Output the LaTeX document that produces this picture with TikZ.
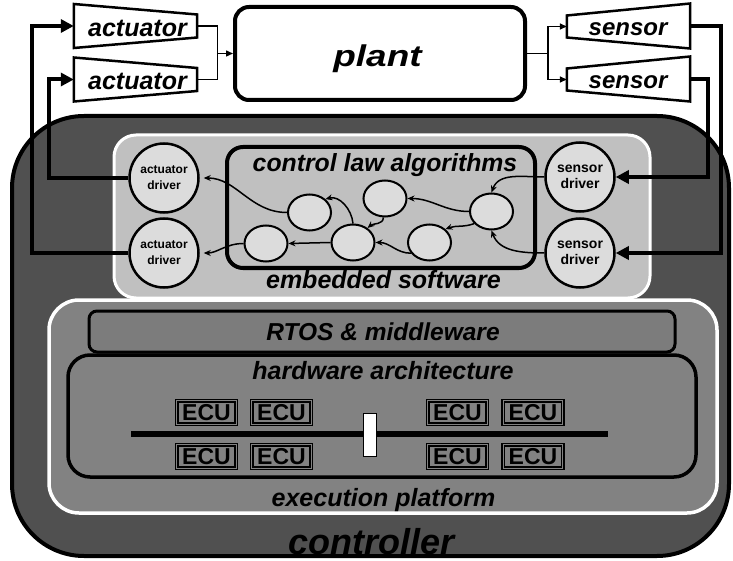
\documentclass[tikz,border=0pt]{standalone}
\usepackage{fontspec}
\usepackage{graphicx}
\setmainfont{Liberation Sans}
\usetikzlibrary{arrows.meta,calc,shapes.geometric}
\definecolor{ctrlgray}{RGB}{80,80,80}
\definecolor{swgray}{RGB}{192,192,192}
\definecolor{epgray}{RGB}{130,130,130}
\definecolor{rtgray}{RGB}{124,124,124}
\definecolor{nodegray}{RGB}{220,220,220}
\tikzset{
  lbl/.style={inner sep=0pt, anchor=base},
  bi/.style={font=\bfseries\itshape\fontsize{#1}{#1}\selectfont},
  algo/.style={ellipse, draw, line width=2pt, fill=nodegray, minimum width=43pt, minimum height=36pt, inner sep=0pt},
  driver/.style={circle, draw, line width=2.5pt, fill=nodegray, minimum size=69pt, inner sep=0pt, align=center},
  ecu/.style={draw, double=epgray, double distance=0.9pt, line width=1.4pt, fill=epgray, minimum width=59.5pt, minimum height=23.5pt, inner sep=0pt, font=\bfseries\fontsize{23}{23}\selectfont},
  ghost/.style={inner sep=0pt, minimum width=123pt, minimum height=22pt},
  trap/.style={draw, line width=2.5pt, fill=white, line join=miter},
  bigarrow/.style={line width=4pt, -{Triangle[length=13pt,width=13pt]}},
  thinln/.style={line width=1.4pt},
  thinarr/.style={line width=1.4pt, -{Triangle[length=7pt,width=6pt]}},
  algarr/.style={line width=1.5pt, -{Stealth[length=7pt,width=6pt]}},
}
\begin{document}
\begin{tikzpicture}[x=1pt,y=1pt]
\useasboundingbox (0,0) rectangle (733,-561);
% controller
\node[draw, line width=4pt, fill=ctrlgray, rounded corners=72pt, minimum width=717pt, minimum height=440pt, inner sep=0pt] (ctrl) at (370.5,-336) {};
\node[lbl, bi=36] (ctrlt) at (371.5,-554) {controller};
% embedded software
\node[draw=white, line width=3pt, fill=swgray, rounded corners=22pt, minimum width=536pt, minimum height=163pt, inner sep=0pt] (sw) at (382,-216.5) {};
\node[draw, line width=4pt, fill=swgray, rounded corners=16pt, minimum width=308pt, minimum height=121pt, inner sep=0pt] (cla) at (381,-207.5) {};
\node[lbl, bi=24.8] (clat) at (385,-172) {control law algorithms};
\node[lbl, bi=25] (swt) at (383.5,-288) {embedded software};
% algorithm nodes
\node[algo] (e1) at (309.5,-212.5) {};
\node[algo] (e2) at (385,-198.5) {};
\node[algo] (e3) at (491.5,-211.5) {};
\node[algo] (e4) at (266,-243.5) {};
\node[algo] (e5) at (353,-242.5) {};
\node[algo] (e6) at (429.5,-242.5) {};
% drivers
\node[driver, font=\bfseries\fontsize{12}{16}\selectfont] (ad1) at (164,-178) {actuator\\driver};
\node[driver, font=\bfseries\fontsize{12}{16}\selectfont] (ad2) at (164,-253) {actuator\\driver};
\node[driver, font=\bfseries\fontsize{14}{16}\selectfont] (sd1) at (580,-177) {sensor\\driver};
\node[driver, font=\bfseries\fontsize{14}{16}\selectfont] (sd2) at (580,-253) {sensor\\driver};
% execution platform
\node[draw=white, line width=3.5pt, fill=epgray, rounded corners=30pt, minimum width=668pt, minimum height=213pt, inner sep=0pt] (ep) at (383,-406.5) {};
\node[draw, line width=3pt, fill=rtgray, rounded corners=8pt, minimum width=586pt, minimum height=41pt, inner sep=0pt] (rtos) at (382,-331.5) {};
\node[lbl, bi=24.5] (rtost) at (383,-340) {RTOS \& middleware};
\node[draw, line width=3.5pt, fill=epgray, rounded corners=22pt, minimum width=628pt, minimum height=122pt, inner sep=0pt] (hw) at (382,-416) {};
\node[lbl, bi=25] (hwt) at (383,-379) {hardware architecture};
\node[lbl, bi=25] (ept) at (383.5,-506) {execution platform};
% bus and ECUs
\coordinate (busL) at (131,-434);
\coordinate (busR) at (608,-434);
\draw[line width=6pt] (busL) -- (busR);
\node[draw, line width=1pt, fill=white, minimum width=13pt, minimum height=43pt, inner sep=0pt] (bridge) at (370,-435) {};
\node[ecu] (c1) at (206.5,-412.5) {ECU};
\node[ecu] (c2) at (281.5,-412.5) {ECU};
\node[ecu] (c3) at (457.5,-412.5) {ECU};
\node[ecu] (c4) at (533,-412.5) {ECU};
\node[ecu] (c5) at (206.5,-456.5) {ECU};
\node[ecu] (c6) at (281.5,-456.5) {ECU};
\node[ecu] (c7) at (457.5,-456.5) {ECU};
\node[ecu] (c8) at (533,-456.5) {ECU};
% plant
\node[draw, line width=4pt, fill=white, rounded corners=14pt, minimum width=290pt, minimum height=93pt, inner sep=0pt] (plant) at (380,-53.5) {};
\node[lbl, font=\bfseries\itshape\fontsize{30}{30}\selectfont] (plantt) at (377.5,-66.5) {\scalebox{1.23}[1]{plant}};
% actuators and sensors
\node[ghost] (act1) at (135.5,-26) {};
\node[ghost] (act2) at (135.5,-79.5) {};
\node[ghost] (sen1) at (628.5,-26.5) {};
\node[ghost] (sen2) at (628.5,-79.5) {};
\foreach \a in {act1,act2}{
  \draw[trap] ($(\a.west)+(0,22)$) -- ($(\a.east)+(0,11.5)$) -- ($(\a.east)+(0,-11.5)$) -- ($(\a.west)+(0,-22)$) -- cycle;
}
\foreach \a in {sen1,sen2}{
  \draw[trap] ($(\a.west)+(0,11)$) -- ($(\a.east)+(0,23)$) -- ($(\a.east)+(0,-22)$) -- ($(\a.west)+(0,-11)$) -- cycle;
}
\node[lbl, bi=25] (act1t) at (137.5,-36.5) {actuator};
\node[lbl, bi=25] (act2t) at (137.5,-90) {actuator};
\node[lbl, bi=24] (sen1t) at (628,-36) {sensor};
\node[lbl, bi=24] (sen2t) at (628,-89) {sensor};
% plant connections
\coordinate (jA) at ([xshift=20pt]act1.east |- plant.west);
\coordinate (jS) at ([xshift=21pt]plant.east);
\draw[thinln] (act1.east) -| (jA);
\draw[thinln] (act2.east) -| (jA);
\draw[thinarr] (jA) -- (plant.west);
\draw[thinln] (plant.east) -- (jS);
\draw[thinarr] (jS) |- (sen1.west);
\draw[thinarr] (jS) |- (sen2.west);
% thick controller connections
\draw[bigarrow] (ad2.west) -| ([xshift=-42pt]act1.west) -- (act1.west);
\draw[bigarrow] (ad1.west) -| ([xshift=-25pt]act2.west) -- (act2.west);
\draw[bigarrow] (sen1.east) -- ([xshift=31pt]sen1.east) |- (sd2.east);
\draw[bigarrow] (sen2.east) -- ([xshift=18pt]sen2.east) |- (sd1.east);
% algorithm arrows
\draw[algarr] (sd1.west) to[out=180,in=70] (e3.north);
\draw[algarr] (sd2.west) to[out=180,in=-70] (e3.south);
\draw[algarr] (e3.west) to[out=180,in=0] (e2.east);
\draw[algarr] (e3.215) to[out=200,in=20] (e6.40);
\draw[algarr] (e6.210) to[out=180,in=0] (e5.east);
\draw[algarr] (e2.265) to[out=-90,in=40] (e5.45);
\draw[algarr] (e5.north) to[out=95,in=15] (e1.40);
\draw[algarr] (e5.west) -- (e4.east);
\draw[algarr, shorten >=4pt] (e1.west) to[out=180,in=0] (ad1.east);
\draw[algarr, shorten >=4pt] (e4.west) to[out=180,in=0] (ad2.east);
\end{tikzpicture}
\end{document}
